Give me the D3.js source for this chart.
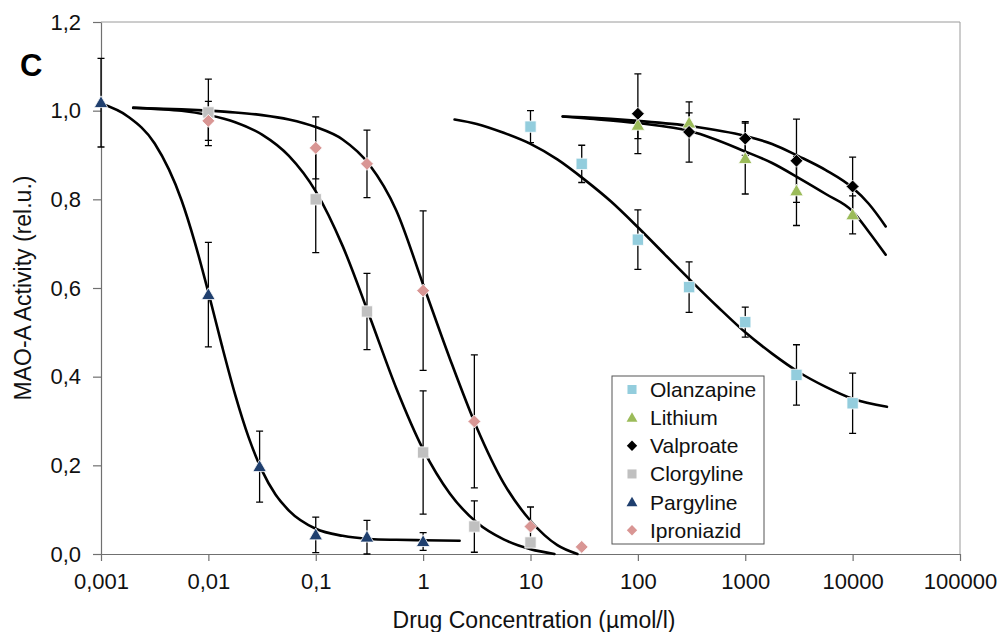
<!DOCTYPE html>
<html>
<head>
<meta charset="utf-8">
<script src="https://cdn.jsdelivr.net/npm/d3@7/dist/d3.min.js"></script>
<style>
  html, body { margin: 0; padding: 0; background: #fff; }
  svg { display: block; font-family: "Liberation Sans", Arial, sans-serif; }
</style>
</head>
<body>
<svg id="chart" width="1002" height="632"></svg>
<script>
// Axis ticks
const xTicks = [0.001, 0.01, 0.1, 1, 10, 100, 1000, 10000, 100000];
const xTickLabels = ["0,001", "0,01", "0,1", "1", "10", "100", "1000", "10000", "100000"];
const yTicks = [0, 0.2, 0.4, 0.6, 0.8, 1.0, 1.2];
const yTickLabels = ["0,0", "0,2", "0,4", "0,6", "0,8", "1,0", "1,2"];

// Measured MAO-A activity (mean ± error) per drug concentration (µmol/l)
const olanzapineConc = [10, 30, 100, 300, 1000, 3000, 10000];
const olanzapineMean = [0.964, 0.880, 0.709, 0.602, 0.523, 0.404, 0.340];
const olanzapineErr  = [0.036, 0.042, 0.067, 0.057, 0.034, 0.068, 0.068];

const lithiumConc = [100, 300, 1000, 3000, 10000];
const lithiumMean = [0.967, 0.972, 0.892, 0.819, 0.765];
const lithiumErr  = [0.030, 0.023, 0.080, 0.078, 0.043];

const valproateConc = [100, 300, 1000, 3000, 10000];
const valproateMean = [0.993, 0.952, 0.937, 0.887, 0.829];
const valproateErr  = [0.090, 0.068, 0.038, 0.094, 0.066];

const clorgylineConc = [0.01, 0.1, 0.3, 1, 3, 10];
const clorgylineMean = [0.996, 0.800, 0.547, 0.229, 0.062, 0.026];
const clorgylineErr  = [0.075, 0.120, 0.086, 0.139, 0.058, 0.006];

const pargylineConc = [0.001, 0.01, 0.03, 0.1, 0.3, 1];
const pargylineMean = [1.018, 0.585, 0.197, 0.043, 0.038, 0.028];
const pargylineErr  = [0.100, 0.118, 0.080, 0.040, 0.038, 0.020];

const iproniazidConc = [0.01, 0.1, 0.3, 1, 3, 10, 30];
const iproniazidMean = [0.977, 0.916, 0.880, 0.594, 0.299, 0.062, 0.016];
const iproniazidErr  = [0.044, 0.070, 0.076, 0.180, 0.150, 0.044, 0.004];

// Fitted dose-response curves: log10(concentration) and activity
const olanzapineFitLogC  = [0.293, 0.5, 0.75, 1.0, 1.25, 1.5, 1.75, 2.0, 2.25, 2.5, 2.75, 3.0, 3.25, 3.5, 3.75, 4.0, 4.32];
const olanzapineFitValue = [0.980, 0.970, 0.950, 0.925, 0.890, 0.845, 0.795, 0.737, 0.676, 0.615, 0.556, 0.500, 0.452, 0.410, 0.377, 0.350, 0.332];

const lithiumFitLogC  = [1.30, 1.5, 2.0, 2.5, 3.0, 3.25, 3.5, 3.75, 4.0, 4.15, 4.308];
const lithiumFitValue = [0.987, 0.983, 0.972, 0.953, 0.908, 0.882, 0.848, 0.812, 0.773, 0.727, 0.675];

const valproateFitLogC  = [1.30, 1.5, 2.0, 2.5, 3.0, 3.25, 3.5, 3.75, 4.0, 4.15, 4.308];
const valproateFitValue = [0.987, 0.985, 0.977, 0.965, 0.943, 0.925, 0.897, 0.866, 0.826, 0.790, 0.739];

const clorgylineFitLogC  = [-2.7, -2.5, -2.25, -2.0, -1.75, -1.5, -1.25, -1.0, -0.75, -0.5, -0.25, 0, 0.25, 0.5, 0.75, 1.0, 1.223];
const clorgylineFitValue = [1.007, 1.004, 1.000, 0.990, 0.974, 0.946, 0.898, 0.818, 0.695, 0.537, 0.374, 0.236, 0.136, 0.071, 0.033, 0.011, 0.0];

const pargylineFitLogC  = [-3.0, -2.75, -2.5, -2.25, -2.125, -2.0, -1.875, -1.75, -1.625, -1.5, -1.375, -1.25, -1.0, -0.75, -0.5, -0.25, 0, 0.34];
const pargylineFitValue = [1.016, 0.987, 0.926, 0.798, 0.702, 0.590, 0.471, 0.359, 0.263, 0.188, 0.134, 0.098, 0.057, 0.041, 0.034, 0.032, 0.031, 0.030];

const iproniazidFitLogC  = [-2.7, -2.5, -2.25, -2.0, -1.75, -1.5, -1.25, -1.0, -0.75, -0.5, -0.25, 0, 0.25, 0.5, 0.75, 1.0, 1.25, 1.437];
const iproniazidFitValue = [1.006, 1.005, 1.003, 1.000, 0.996, 0.990, 0.980, 0.963, 0.935, 0.878, 0.775, 0.608, 0.440, 0.285, 0.160, 0.075, 0.020, 0.0];

const seriesNames  = ["Olanzapine", "Lithium", "Valproate", "Clorgyline", "Pargyline", "Iproniazid"];
const seriesColors = ["#93CDDD", "#9BBB59", "#000000", "#C0C0C0", "#1F3F6E", "#D99694"];
const seriesShapes = ["square", "triangle", "diamond", "square", "triangle", "diamond"];

const series = [
  { conc: olanzapineConc, mean: olanzapineMean, err: olanzapineErr, fitX: olanzapineFitLogC, fitY: olanzapineFitValue },
  { conc: lithiumConc,    mean: lithiumMean,    err: lithiumErr,    fitX: lithiumFitLogC,    fitY: lithiumFitValue },
  { conc: valproateConc,  mean: valproateMean,  err: valproateErr,  fitX: valproateFitLogC,  fitY: valproateFitValue },
  { conc: clorgylineConc, mean: clorgylineMean, err: clorgylineErr, fitX: clorgylineFitLogC, fitY: clorgylineFitValue },
  { conc: pargylineConc,  mean: pargylineMean,  err: pargylineErr,  fitX: pargylineFitLogC,  fitY: pargylineFitValue },
  { conc: iproniazidConc, mean: iproniazidMean, err: iproniazidErr, fitX: iproniazidFitLogC, fitY: iproniazidFitValue }
].map((s, i) => Object.assign(s, { name: seriesNames[i], color: seriesColors[i], shape: seriesShapes[i] }));

// Layout
const plot = { left: 101, right: 960, top: 22, bottom: 554 };
const svg = d3.select("#chart");

const x = d3.scaleLog().domain([0.001, 100000]).range([plot.left, plot.right]);
const y = d3.scaleLinear().domain([0, 1.2]).range([plot.bottom, plot.top]);

svg.append("rect").attr("width", 1002).attr("height", 632).attr("fill", "#fff");

// Plot frame (top and right)
svg.append("path")
  .attr("d", `M${plot.left},${plot.top}H${plot.right}V${plot.bottom}`)
  .attr("fill", "none").attr("stroke", "#9a9a9a").attr("stroke-width", 1);

// Axes
const xAxis = d3.axisBottom(x).tickValues(xTicks)
  .tickFormat((d, i) => xTickLabels[i]).tickSize(7).tickSizeOuter(0).tickPadding(12);
const yAxis = d3.axisLeft(y).tickValues(yTicks)
  .tickFormat((d, i) => yTickLabels[i]).tickSize(8).tickSizeOuter(0).tickPadding(12);

const gx = svg.append("g").attr("transform", `translate(0,${plot.bottom})`).call(xAxis);
const gy = svg.append("g").attr("transform", `translate(${plot.left},0)`).call(yAxis);
[gx, gy].forEach(g => {
  g.select(".domain").attr("stroke", "#707070").attr("stroke-width", 1.2);
  g.selectAll(".tick line").attr("stroke", "#707070").attr("stroke-width", 1.2);
  g.selectAll(".tick text").attr("fill", "#111").style("font-size", "22px")
    .style("font-family", "'Liberation Sans', Arial, sans-serif");
});

// Axis titles
svg.append("text")
  .attr("x", 534).attr("y", 628)
  .attr("text-anchor", "middle").attr("fill", "#111")
  .style("font-size", "23px")
  .text("Drug Concentration (\u00b5mol/l)");

svg.append("text")
  .attr("transform", `translate(31,${(plot.top + plot.bottom) / 2}) rotate(-90)`)
  .attr("text-anchor", "middle").attr("fill", "#111")
  .style("font-size", "23px")
  .text("MAO-A Activity (rel.u.)");

// Panel letter
svg.append("text")
  .attr("x", 20).attr("y", 76)
  .attr("fill", "#000").style("font-size", "31px").style("font-weight", "bold")
  .text("C");

// Fitted curves
const fitLine = d3.line()
  .x(d => x(Math.pow(10, d[0])))
  .y(d => y(d[1]))
  .curve(d3.curveMonotoneX);

const gFits = svg.append("g");
series.forEach(s => {
  gFits.append("path")
    .datum(s.fitX.map((v, i) => [v, s.fitY[i]]))
    .attr("d", fitLine)
    .attr("fill", "none").attr("stroke", "#000")
    .attr("stroke-width", 2.6).attr("stroke-linecap", "round");
});

// Error bars
const capHalf = 3.5;
const gErr = svg.append("g").attr("stroke", "#000").attr("stroke-width", 1.3).attr("fill", "none");
series.forEach(s => {
  s.conc.forEach((c, i) => {
    const cx = x(c);
    const yHi = y(s.mean[i] + s.err[i]);
    const yLo = y(Math.max(0, s.mean[i] - s.err[i]));
    gErr.append("path")
      .attr("d", `M${cx},${yHi}V${yLo}M${cx - capHalf},${yHi}H${cx + capHalf}M${cx - capHalf},${yLo}H${cx + capHalf}`);
  });
});

// Marker symbols
function markerPath(shape, scale) {
  const k = scale || 1;
  if (shape === "square") return d3.symbol(d3.symbolSquare, 128 * k * k)();
  if (shape === "triangle") return d3.symbol(d3.symbolTriangle, 80 * k * k)();
  return d3.symbol(d3.symbolSquare, 84 * k * k)();
}

const gPts = svg.append("g");
series.forEach(s => {
  s.conc.forEach((c, i) => {
    const rot = s.shape === "diamond" ? " rotate(45)" : "";
    const dy = s.shape === "triangle" ? 1 : 0;
    gPts.append("path")
      .attr("d", markerPath(s.shape))
      .attr("transform", `translate(${x(c)},${y(s.mean[i]) + dy})${rot}`)
      .attr("fill", s.color)
      .attr("stroke", "#fff").attr("stroke-width", 0.8);
  });
});

// Legend
const legend = { x: 612, y: 376, w: 152, h: 168, rowStart: 389.5, rowStep: 28.15 };
const gLeg = svg.append("g");
gLeg.append("rect")
  .attr("x", legend.x).attr("y", legend.y)
  .attr("width", legend.w).attr("height", legend.h)
  .attr("fill", "#fff").attr("stroke", "#555").attr("stroke-width", 1);

series.forEach((s, i) => {
  const cy = legend.rowStart + i * legend.rowStep;
  const rot = s.shape === "diamond" ? " rotate(45)" : "";
  gLeg.append("path")
    .attr("d", markerPath(s.shape, 0.8))
    .attr("transform", `translate(${legend.x + 20},${cy + (s.shape === "triangle" ? 1 : 0)})${rot}`)
    .attr("fill", s.color);
  gLeg.append("text")
    .attr("x", legend.x + 38).attr("y", cy + 7.5)
    .attr("fill", "#111").style("font-size", "21px")
    .text(s.name);
});
</script>
</body>
</html>
